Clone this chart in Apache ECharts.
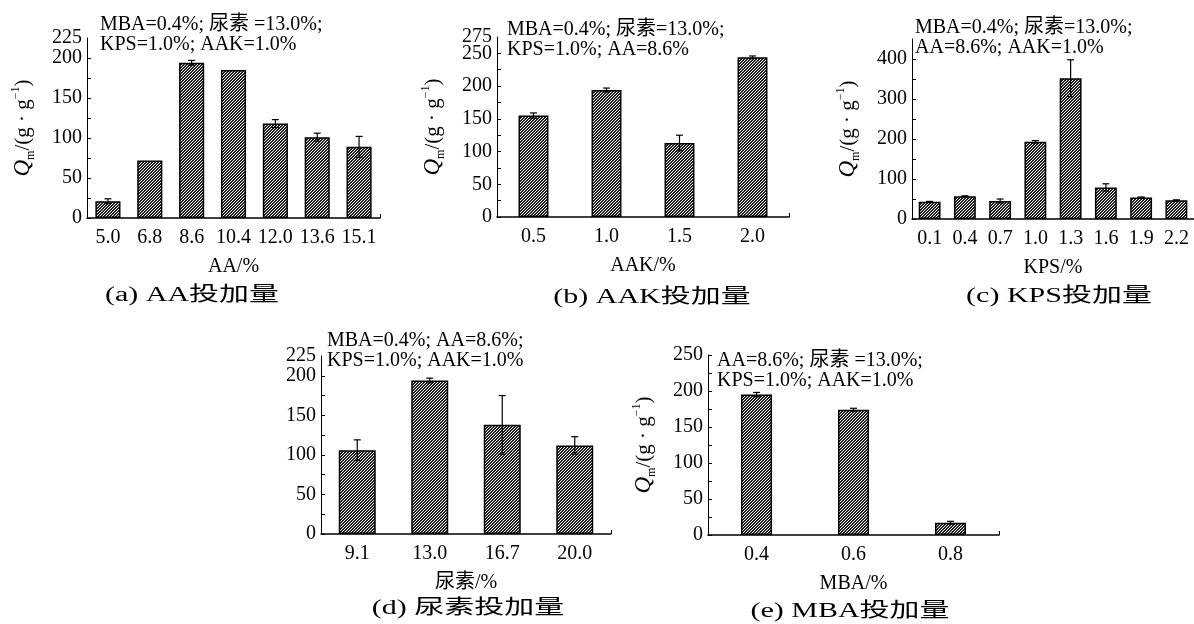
<!DOCTYPE html>
<html><head><meta charset="utf-8">
<script src="https://cdn.jsdelivr.net/npm/echarts@6/dist/echarts.min.js"></script>
<style>html,body{margin:0;padding:0;background:#fff}#c{width:1194px;height:624px}</style>
</head><body><div id="c"></div>
<script>
// ---- data ----
const catsA = ['5.0','6.8','8.6','10.4','12.0','13.6','15.1'];
const valsA = [21, 72, 194, 185, 118, 101, 89];
const errA  = [3, 0, 3, 0, 5, 5, 13];
const catsB = ['0.5','1.0','1.5','2.0'];
const valsB = [155, 194, 113, 244];
const errB  = [4, 3, 12, 2];
const catsC = ['0.1','0.4','0.7','1.0','1.3','1.6','1.9','2.2'];
const valsC = [43, 57, 45, 193, 352, 79, 54, 47];
const errC  = [1, 1, 5, 3, 46, 9, 1, 1];
const catsD = ['9.1','13.0','16.7','20.0'];
const valsD = [106, 194, 138, 112];
const errD  = [13, 3, 37, 11];
const catsE = ['0.4','0.6','0.8'];
const valsE = [195, 174, 17];
const errE  = [3, 2, 2];

const FONT = '"Liberation Serif","Times New Roman","Noto Sans CJK SC",serif';

// hatch pattern
const pat = document.createElement('canvas');
pat.width = 3; pat.height = 3;
(function(){
  const ctx = pat.getContext('2d');
  const img = ctx.createImageData(3,3);
  for (let y=0;y<3;y++) for (let x=0;x<3;x++){
    const dark = (x+y)%3 !== 0;
    const c = dark ? 30 : 255;
    const k = (y*3+x)*4;
    img.data[k]=c; img.data[k+1]=c; img.data[k+2]=c; img.data[k+3]=255;
  }
  ctx.putImageData(img,0,0);
})();

const chart = echarts.init(document.getElementById('c'));

const grids = [
  {left: 87,  top: 38,  width: 293, height: 180},
  {left: 497, top: 37,  width: 292, height: 180},
  {left: 912, top: 39,  width: 295, height: 180},
  {left: 321, top: 356, width: 290, height: 178},
  {left: 708, top: 355, width: 291, height: 180}
];
const panels = [
  {cats: catsA, vals: valsA, errs: errA, max: 225, interval: 25, labStep: 50, name: 'AA/%',  bw: '60%', yname: true, maxLabel: true},
  {cats: catsB, vals: valsB, errs: errB, max: 275, interval: 25, labStep: 50, name: 'AAK/%', bw: '41%', yname: true, maxLabel: true},
  {cats: catsC, vals: valsC, errs: errC, max: 450, interval: 50, labStep: 100, name: 'KPS/%', bw: '62%', yname: true, maxLabel: false},
  {cats: catsD, vals: valsD, errs: errD, max: 225, interval: 25, labStep: 50, name: '尿素/%', bw: '51%', yname: false, maxLabel: true},
  {cats: catsE, vals: valsE, errs: errE, max: 250, interval: 25, labStep: 50, name: 'MBA/%', bw: '32%', yname: true, maxLabel: false}
];

const ynameRich = {
  q: {fontFamily: FONT, fontSize: 23, fontStyle: 'italic', color: '#000', verticalAlign: 'bottom', lineHeight: 24},
  s: {fontFamily: FONT, fontSize: 12, color: '#000', verticalAlign: 'bottom', lineHeight: 24, padding: [0,0,-3,0]},
  n: {fontFamily: FONT, fontSize: 21, color: '#000', verticalAlign: 'bottom', lineHeight: 24},
  p: {fontFamily: FONT, fontSize: 12, color: '#000', verticalAlign: 'top', lineHeight: 24}
};

const xAxes = [], yAxes = [], extraY = [], series = [];
panels.forEach((p, i) => {
  const n = p.cats.length;
  xAxes.push({
    type: 'category', gridIndex: i, data: p.cats,
    name: p.name, nameLocation: 'middle', nameGap: 39,
    nameTextStyle: {fontFamily: FONT, fontSize: 20, color: '#000'},
    axisLine: {lineStyle: {color: '#000', width: 1.5}},
    axisTick: {show: true, inside: true, length: 4, lineStyle: {color: '#000', width: 1}, interval: (idx) => idx === n - 1},
    axisLabel: {fontFamily: FONT, fontSize: 20, color: '#000', margin: 10, interval: 0},
    splitLine: {show: false}
  });
  const topIsMajor = p.max % p.labStep === 0;
  yAxes.push({
    type: 'value', gridIndex: i, min: 0, max: p.max, interval: p.interval,
    name: p.yname ? '{q|Q}{s|m}{n|/(g · g}{p|−1}{n|)}' : '',
    nameLocation: 'middle', nameRotate: 90, nameGap: 53,
    nameTextStyle: {rich: ynameRich},
    axisLine: {show: true, lineStyle: {color: '#000', width: 1}},
    axisTick: {show: true, inside: true, length: 4, lineStyle: {color: '#000', width: 1}},
    axisLabel: {fontFamily: FONT, fontSize: 20, color: '#000', margin: 5,
      showMaxLabel: topIsMajor, showMinLabel: true,
      formatter: (v) => (v % p.labStep === 0) ? String(v) : ''},
    splitLine: {show: false}
  });
  if (p.maxLabel && !topIsMajor) {
    // label of the axis top value (e.g. 225, 275), kept on its own overlaid axis
    extraY.push({
      type: 'value', gridIndex: i, min: 0, max: p.max, interval: p.interval, position: 'left',
      axisLine: {show: false}, axisTick: {show: false}, splitLine: {show: false},
      axisLabel: {fontFamily: FONT, fontSize: 20, color: '#000', margin: 5,
        showMaxLabel: true, showMinLabel: false,
        formatter: (v) => v === p.max ? String(v) : ''}
    });
  }
  series.push({
    type: 'bar', xAxisIndex: i, yAxisIndex: i, data: p.vals, barWidth: p.bw,
    itemStyle: {color: {image: pat, repeat: 'repeat'}, borderColor: '#000', borderWidth: 1.5},
    silent: true
  });
  series.push({
    type: 'custom', xAxisIndex: i, yAxisIndex: i, z: 10, silent: true,
    data: p.vals.map((v, k) => [k, v - p.errs[k], v + p.errs[k], p.errs[k]]),
    encode: {x: 0, y: [1, 2]},
    renderItem: function (params, api) {
      if (!api.value(3)) return null;
      const x = api.value(0);
      const lo = api.coord([x, api.value(1)]);
      const hi = api.coord([x, api.value(2)]);
      const w = 3.5;
      const st = {stroke: '#000', lineWidth: 1.2};
      return {type: 'group', children: [
        {type: 'line', shape: {x1: lo[0], y1: lo[1], x2: hi[0], y2: hi[1]}, style: st},
        {type: 'line', shape: {x1: lo[0] - w, y1: lo[1], x2: lo[0] + w, y2: lo[1]}, style: st},
        {type: 'line', shape: {x1: hi[0] - w, y1: hi[1], x2: hi[0] + w, y2: hi[1]}, style: st}
      ]};
    }
  });
});

function note(x, y, text) {
  return {type: 'text', x: x, y: y, z: 20, silent: true,
    style: {text: text, font: '20px ' + FONT, fill: '#000', lineHeight: 20, verticalAlign: 'top'}};
}
function caption(x, y, text) {
  return {type: 'text', x: x, y: y, z: 20, silent: true, scaleX: 1.5,
    style: {text: text, font: '20px ' + FONT, fill: '#000', align: 'center', verticalAlign: 'middle'}};
}

chart.setOption({
  animation: false,
  backgroundColor: '#fff',
  grid: grids,
  xAxis: xAxes,
  yAxis: yAxes.concat(extraY),
  series: series,
  graphic: [
    note(100, 15, 'MBA=0.4%; 尿素 =13.0%;\nKPS=1.0%; AAK=1.0%'),
    note(507, 20, 'MBA=0.4%; 尿素=13.0%;\nKPS=1.0%; AA=8.6%'),
    note(915, 18, 'MBA=0.4%; 尿素=13.0%;\nAA=8.6%; AAK=1.0%'),
    note(327, 331, 'MBA=0.4%; AA=8.6%;\nKPS=1.0%; AAK=1.0%'),
    note(717, 351, 'AA=8.6%; 尿素 =13.0%;\nKPS=1.0%; AAK=1.0%'),
    caption(192, 296, '(a) AA投加量'),
    caption(652, 298, '(b) AAK投加量'),
    caption(1059, 297, '(c) KPS投加量'),
    caption(468, 609, '(d) 尿素投加量'),
    caption(850, 612, '(e) MBA投加量')
  ]
});
</script></body></html>
